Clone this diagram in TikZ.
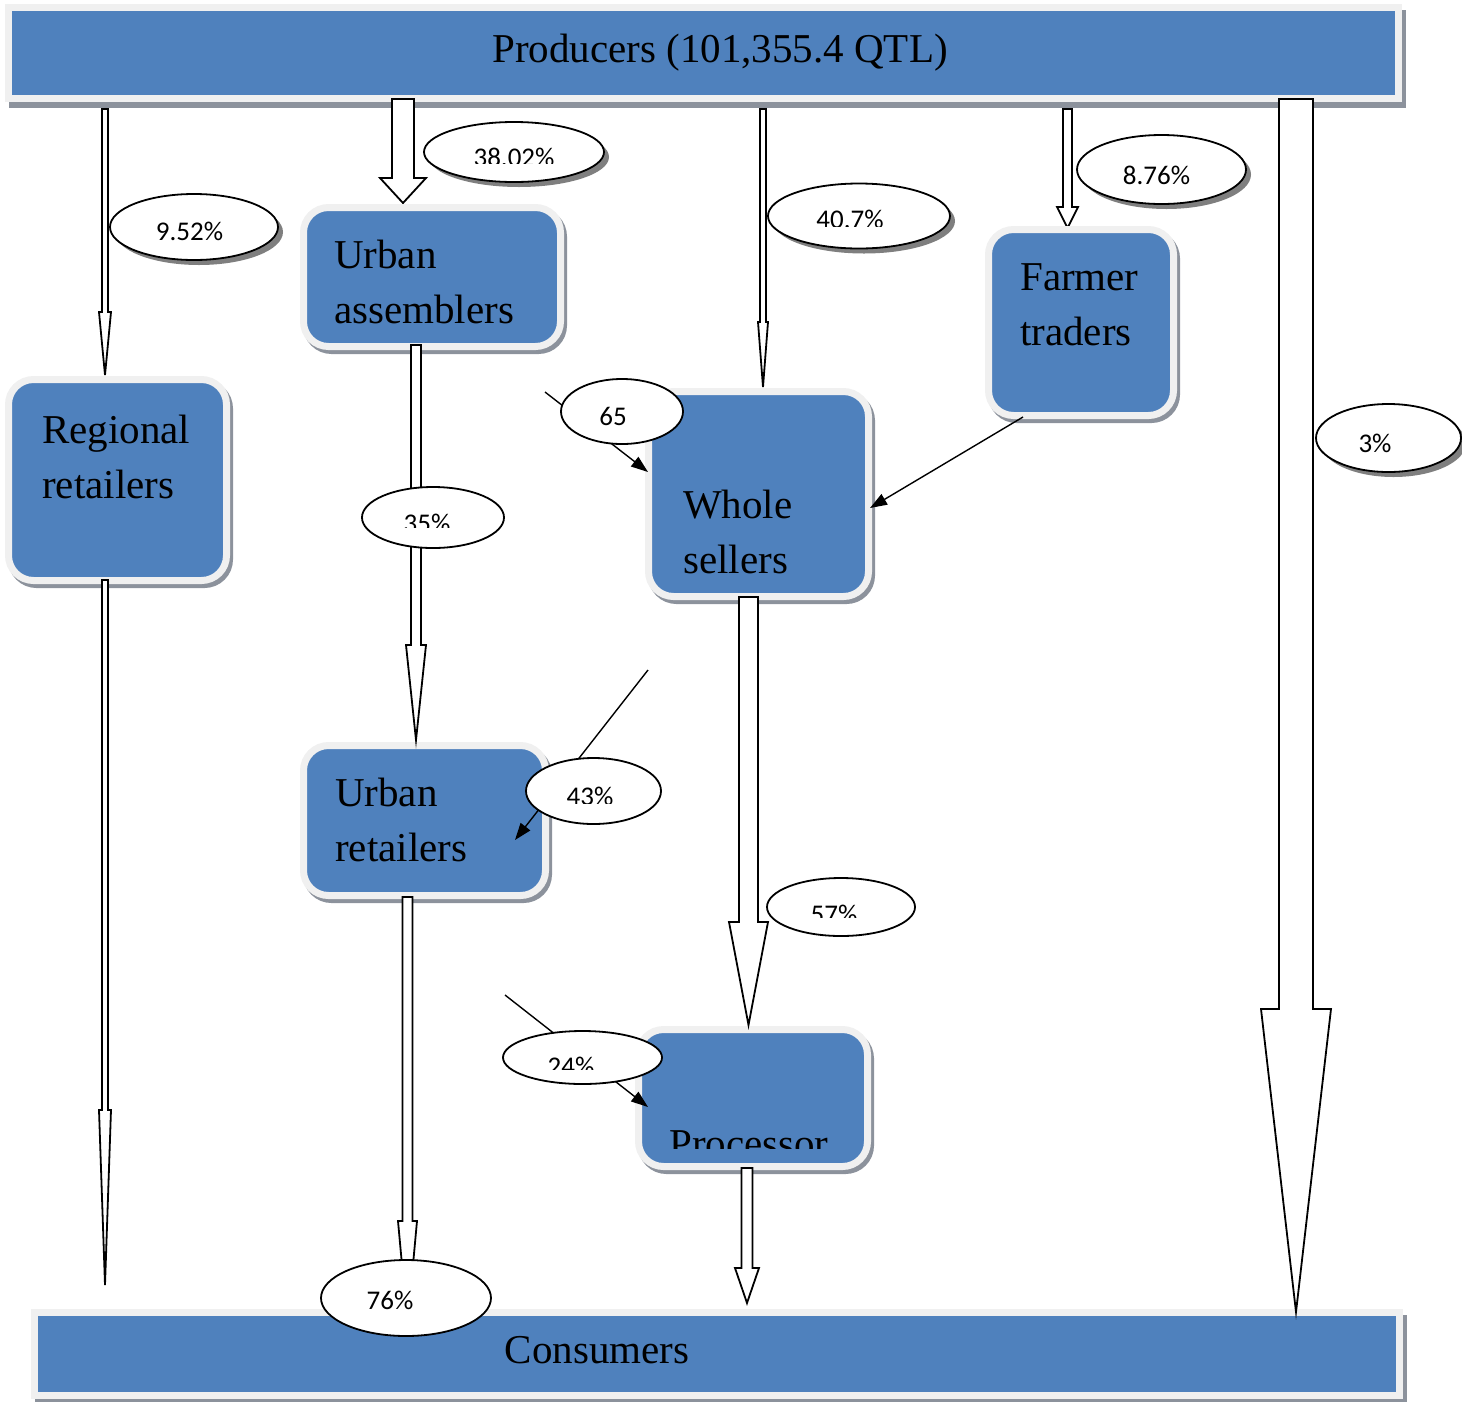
\documentclass[tikz,border=0pt]{standalone}
\usepackage{fontspec}
\setmainfont{Liberation Serif}
\newfontfamily\pctfont{Carlito}
\usetikzlibrary{shapes.geometric,shadows,arrows.meta,calc}
\definecolor{chblue}{HTML}{4F81BD}
\definecolor{chrim}{HTML}{F0F0F0}
\definecolor{chshade}{HTML}{8C929C}
\definecolor{elshade}{HTML}{7F7F7F}

% block arrow: start, tip, shaft half width, head half width, head length
\newcommand{\flowarrow}[5]{%
  \draw[blockarr] let \p1=(#1), \p2=(#2) in
    (\x1-#3pt,\y1) -- (\x1-#3pt,\y2+#5pt) -- (\x1-#4pt,\y2+#5pt) -- (\x1,\y2)
    -- (\x1+#4pt,\y2+#5pt) -- (\x1+#3pt,\y2+#5pt) -- (\x1+#3pt,\y1) -- cycle;}

% share label cut off below: name, x, baseline, cut, text
\newcommand{\cutpct}[5]{%
  \begin{scope}
    \clip (#2-95,#3-50) rectangle (#2+95,#4);
    \node[pct,anchor=base] (#1) at (#2,#3) {#5};
  \end{scope}}

\begin{document}
\begin{tikzpicture}[x=1pt,y=-1pt,
    chbox/.style={rounded corners=25pt,fill=chblue,draw=chrim,line width=7pt,inner sep=0pt,
      drop shadow={shadow xshift=3pt,shadow yshift=-4pt,fill=chshade,draw=chshade,line width=7pt,opacity=1}},
    chbar/.style={fill=chblue,draw=chrim,line width=7pt,inner sep=0pt,
      drop shadow={shadow xshift=4pt,shadow yshift=-6pt,fill=chshade,draw=chshade,line width=7pt,opacity=1}},
    boxtext/.style={font=\fontsize{41}{55}\selectfont,text width=250pt,align=left,inner sep=0pt,anchor=base west},
    bartext/.style={font=\fontsize{41}{55}\selectfont,inner sep=0pt,anchor=base},
    pct/.style={font=\pctfont\fontsize{27}{30}\selectfont,inner sep=0pt},
    oval/.style={ellipse,draw,fill=white,line width=1.8pt,inner sep=0pt},
    shoval/.style={oval,drop shadow={shadow xshift=5pt,shadow yshift=-5pt,fill=elshade,opacity=1}},
    blockarr/.style={draw,fill=white,line width=1.8pt},
    thinarr/.style={line width=1.4pt,-{Triangle[length=17pt,width=12pt]}}]

  \useasboundingbox (0,0) rectangle (1462,1401);

  % top and bottom bars
  \node[chbar,minimum width=1390pt,minimum height=91pt] (prod) at (703.5,53) {};
  \node[bartext] (prodt) at (720,62) {Producers (101,355.4 QTL)};
  \node[chbar,minimum width=1365pt,minimum height=83pt] (cons) at (717,1354) {};
  \node[bartext] (const) at (597,1363) {Consumers};

  % arrows out of the producers
  \coordinate (a1s) at (105,109);   \coordinate (a1e) at (105,375);
  \coordinate (a2s) at (403,99);    \coordinate (a2e) at (403,203);
  \coordinate (a3s) at (763,109);   \coordinate (a3e) at (763,387);
  \coordinate (a4s) at (1067.5,109);\coordinate (a4e) at (1067.5,228);
  \coordinate (a5s) at (1296,99);   \coordinate (a5e) at (1296,1312);
  \flowarrow{a1s}{a1e}{3}{6}{63}
  \flowarrow{a2s}{a2e}{11}{23}{25}
  \flowarrow{a3s}{a3e}{3}{5}{65}
  \flowarrow{a4s}{a4e}{4.5}{10.5}{21}
  \flowarrow{a5s}{a5e}{17}{35}{303}

  % the traders
  \node[chbox,minimum width=218pt,minimum height=201pt] (rreg) at (117.5,480) {};
  \node[chbox,minimum width=257pt,minimum height=139pt] (uasm) at (432,277) {};
  \node[chbox,minimum width=220pt,minimum height=205pt] (whsl) at (758.5,494) {};
  \node[chbox,minimum width=185pt,minimum height=186pt] (ftrd) at (1081,322.5) {};
  \node[chbox,minimum width=242pt,minimum height=150pt] (uret) at (424.5,820.5) {};
  \node[chbox,minimum width=229pt,minimum height=137pt] (proc) at (753,1098) {};

  \node[boxtext] (rregt) at (42,443) {Regional\\retailers};
  \node[boxtext] (uasmt) at (334,268) {Urban\\assemblers};
  \node[boxtext] (whslt) at (683,518) {Whole\\sellers};
  \node[boxtext] (ftrdt) at (1020,290) {Farmer\\traders};
  \node[boxtext] (urett) at (335,806) {Urban\\retailers};
  \begin{scope}
    \clip (600,1040) rectangle (900,1148);
    \node[boxtext] (proct) at (669,1157) {Processor};
  \end{scope}

  % arrows out of the traders
  \coordinate (a6s) at (105,580);   \coordinate (a6e) at (105,1285);
  \coordinate (a7s) at (416,345);   \coordinate (a7e) at (416,740);
  \coordinate (a8s) at (407.5,897); \coordinate (a8e) at (407.5,1325);
  \coordinate (a9s) at (748.5,597); \coordinate (a9e) at (748.5,1025);
  \coordinate (a10s) at (747,1168); \coordinate (a10e) at (747,1303);
  \flowarrow{a6s}{a6e}{3}{6}{175}
  \flowarrow{a7s}{a7e}{5}{10}{95}
  \flowarrow{a8s}{a8e}{5}{9.5}{104}
  \flowarrow{a9s}{a9e}{9.5}{19.5}{103}
  \flowarrow{a10s}{a10e}{5.5}{12}{35}

  % thin arrows
  \coordinate (l1s) at (545,392);   \coordinate (l1e) at (648,472);
  \coordinate (l2s) at (1023,417);  \coordinate (l2e) at (870,508);
  \coordinate (l3s) at (648,670);   \coordinate (l3e) at (515,840);
  \coordinate (l4s) at (505,995);   \coordinate (l4e) at (648,1107);
  \draw[thinarr] (l1s) -- (l1e);
  \draw[thinarr] (l2s) -- (l2e);
  \draw[thinarr] (l3s) -- (l3e);
  \draw[thinarr] (l4s) -- (l4e);

  % shares
  \node[shoval,minimum width=180pt,minimum height=60pt] (e1) at (514,152) {};
  \node[shoval,minimum width=168pt,minimum height=66pt] (e2) at (194,227) {};
  \node[shoval,minimum width=182pt,minimum height=65pt] (e3) at (859,216) {};
  \node[shoval,minimum width=169pt,minimum height=69pt] (e4) at (1161.5,169.5) {};
  \node[shoval,minimum width=145pt,minimum height=68pt] (e5) at (1388.5,438) {};
  \node[oval,minimum width=122pt,minimum height=65pt] (e6) at (622,411.5) {};
  \node[oval,minimum width=142pt,minimum height=61pt] (e7) at (433,517.5) {};
  \node[oval,minimum width=135pt,minimum height=66pt] (e8) at (593.5,791) {};
  \node[oval,minimum width=148pt,minimum height=58pt] (e9) at (841,907) {};
  \node[oval,minimum width=159pt,minimum height=53pt] (e10) at (582.5,1057.5) {};
  \node[oval,minimum width=170pt,minimum height=76pt] (e11) at (406,1298) {};

  \cutpct{e1t}{514}{166}{163}{38.02\%}
  \cutpct{e2t}{189.5}{240}{241}{9.52\%}
  \cutpct{e3t}{850}{228}{226}{40.7\%}
  \node[pct,anchor=base] (e4t) at (1156.5,184) {8.76\%};
  \node[pct,anchor=base] (e5t) at (1375,452) {3\%};
  \node[pct,anchor=base] (e6t) at (613,425) {65};
  \cutpct{e7t}{427}{532}{527}{35\%}
  \cutpct{e8t}{590}{805}{803}{43\%}
  \cutpct{e9t}{834}{923}{917}{57\%}
  \cutpct{e10t}{571}{1075}{1069}{24\%}
  \node[pct,anchor=base] (e11t) at (390,1309) {76\%};
\end{tikzpicture}
\end{document}
